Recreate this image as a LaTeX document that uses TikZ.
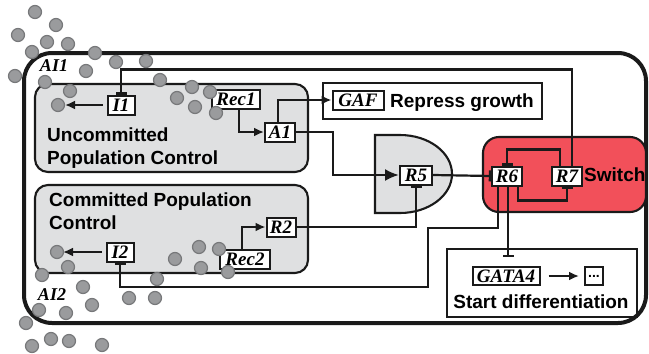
\documentclass[tikz,border=0pt]{standalone}
\usepackage{fontspec}
\setmainfont{Liberation Sans}
\newfontfamily\genefont{Liberation Serif}
\usetikzlibrary{arrows.meta,positioning,calc}
\definecolor{ink}{HTML}{1A1A1A}
\definecolor{panelgrey}{HTML}{DFE0E1}
\definecolor{switchred}{HTML}{F2505A}
\definecolor{ballgrey}{HTML}{9A9B9D}
\definecolor{balledge}{HTML}{77787A}
\tikzset{
  genebox/.style={draw=ink,fill=white,line width=2pt,inner xsep=3pt,inner ysep=0pt,
                  minimum height=19pt,font=\genefont\bfseries\itshape\fontsize{19}{19}\selectfont},
  panelbox/.style={draw=ink,fill=panelgrey,line width=2.1pt,rounded corners=13pt},
  framebox/.style={draw=ink,line width=2.1pt},
  boldtext/.style={font=\bfseries\fontsize{19}{23}\selectfont,inner sep=0pt},
  cornertag/.style={font=\genefont\bfseries\itshape\fontsize{18}{18}\selectfont,inner sep=0pt},
  actarr/.style={-{Latex[length=10pt,width=9pt]},line width=2.2pt,draw=ink},
  bigarr/.style={-{Latex[length=14pt,width=12pt]},line width=2.2pt,draw=ink},
  inharr/.style={-{Bar[width=11pt]},line width=2.2pt,draw=ink},
  cellball/.style={circle,draw=balledge,fill=ballgrey,line width=1.2pt,
                   minimum size=13pt,inner sep=0pt}
}
\begin{document}
\begin{tikzpicture}[x=1pt,y=-1pt]
    \path[use as bounding box] (0,0) rectangle (649,354);
    \draw[ink,line width=4pt,rounded corners=28pt] (24,53) rectangle (646,323);
    \draw[panelbox] (35,84) rectangle (308,172);
    \draw[panelbox] (35,185) rectangle (308,273);
    \draw[draw=ink,fill=panelgrey,line width=2.1pt] (375,135) -- (400,135)
      arc[start angle=-90,end angle=90,x radius=52,y radius=39] -- (375,213) -- cycle;
    \draw[panelbox,fill=switchred,rounded corners=16pt] (483,137) rectangle (646,212);
    \draw[framebox] (323,83) rectangle (542,119);
    \draw[framebox] (447,249) rectangle (637,317);
    \node[boldtext,align=left,anchor=north west] (uncomtext) at (47,128)
      {Uncommitted\\Population Control};
    \node[boldtext,align=left,anchor=north west] (comtext) at (49,193)
      {Committed Population\\Control};
    \node[genebox,minimum width=27pt] (I1) at (121,105) {I1};
    \node[genebox,minimum width=48pt] (Rec1) at (236,99) {Rec1};
    \node[genebox,minimum width=30pt] (A1) at (280,132) {A1};
    \node[genebox,minimum width=51pt] (GAF) at (358,100) {GAF};
    \node[boldtext,anchor=base west] (repress) at (390,107) {Repress growth};
    \node[genebox,minimum width=32pt] (R5) at (416,175) {R5};
    \node[genebox,minimum width=30pt] (R6) at (507,176) {R6};
    \node[genebox,minimum width=30pt] (R7) at (567,176) {R7};
    \node[boldtext,anchor=base west] (switch) at (584,181) {Switch};
    \node[genebox,minimum width=29pt] (R2) at (281,227) {R2};
    \node[genebox,minimum width=50pt] (Rec2) at (245,259) {Rec2};
    \node[genebox,minimum width=27pt] (I2) at (120,252) {I2};
    \node[genebox,minimum width=67pt,minimum height=18pt] (GATA4) at (506,276) {GATA4};
    \node[genebox,minimum width=18pt,minimum height=18pt,
          font=\bfseries\fontsize{14}{14}\selectfont] (later) at (594,276) {...};
    \node[boldtext,anchor=base] (startdiff) at (541,308) {Start differentiation};
    \node[cornertag] (AI1) at (54,66) {AI1};
    \node[cornertag] (AI2) at (52,295) {AI2};
    \draw[actarr,shorten <=4pt,shorten >=7pt] (I1.west) -- (58,105) coordinate (ballI1);
    \draw[actarr,shorten <=4pt,shorten >=6pt] (I2.west) -- (57,252) coordinate (ballI2);
    \draw[actarr] ([xshift=3pt]Rec1.south) |- (A1.west);
    \draw[actarr] ([xshift=-2pt]A1.north) |- (GAF.west);
    \draw[bigarr] (A1.east) -- ++(37,0) |- (R5.west);
    \draw[actarr] ([xshift=-3pt]Rec2.north) |- (R2.west);
    \draw[inharr] (R2.east) -| (R5.south);
    \draw[inharr] (R5.east) -- (R6.west);
    \draw[inharr] ([xshift=-7pt]R7.north) -- ++(0,-16) -| (R6.north);
    \draw[inharr] ([xshift=11pt]R6.south) -- ++(0,14) -| (R7.south);
    \draw[inharr] ([xshift=5pt]R7.north) -- ++(0,-96) -| (I1.north);
    \draw[inharr] ([xshift=-9pt]R6.south) |- (428,228) -- (428,287) -| (I2.south);
    \draw[inharr,shorten >=9pt] ([xshift=1pt]R6.south) -- ([xshift=1pt]R6.south |- GATA4.north);
    \draw[actarr,shorten <=8pt,shorten >=5pt] (GATA4.east) -- (later.west);
    \node[cellball] (ballA) at (ballI1) {};
    \node[cellball] (ballB) at (ballI2) {};
    \foreach \bx/\by [count=\k] in {35/12,56/25,18/35,47/42,68/44,32/52,95/53,116/62,
      146/61,86/71,15/76,45/82,160/80,70/91,192/87,210/92,177/98,195/107,216/113,
      68/267,42/275,83/287,92/305,39/310,66/313,26/323,51/339,69/341,32/346,102/345,
      129/298,155/298,157/279,175/259,199/247,201/268,219/249,228/272}{
      \node[cellball] (ball\k) at (\bx,\by) {};
    }
\end{tikzpicture}
\end{document}
